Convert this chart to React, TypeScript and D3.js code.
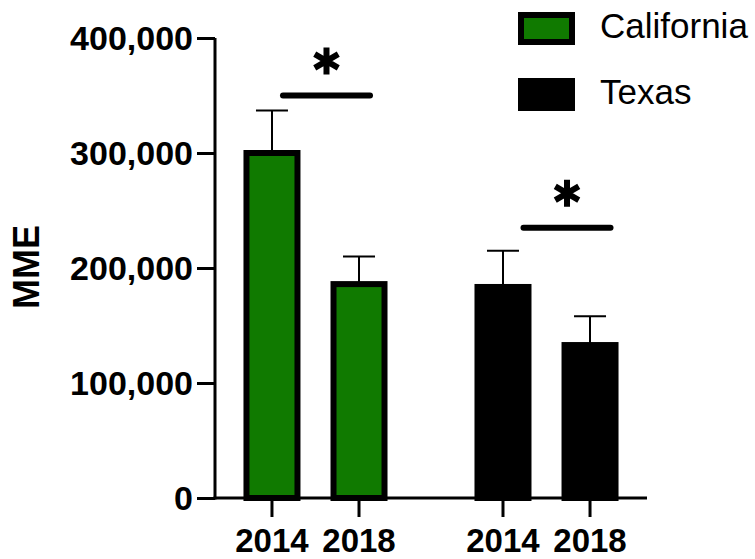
import React, { useRef, useEffect } from "react";
import * as d3 from "d3";

// values
const groups = ["California", "Texas"];
const years = ["2014", "2018"];
const means = [
  [300000, 186000],
  [183500, 133000],
];
const errors = [
  [37000, 24000],
  [31500, 25000],
];
const yTicks = [0, 100000, 200000, 300000, 400000];
const fills = ["#107a00", "#000000"];
// significance bars: value of the line, value of the star
const sigLine = [350000, 235000];
const sigStar = [380000, 265000];
const sigShift = [11, 20.5];

const W = 755;
const H = 559;
const FONT = "'Liberation Sans', Arial, sans-serif";

const App = () => {
  const ref = useRef<SVGSVGElement>(null);

  useEffect(() => {
    const svg = d3.select(ref.current);
    svg.selectAll("*").remove();

    const y = d3.scaleLinear().domain([0, 400000]).range([498, 38]);
    const x0 = d3.scaleBand().domain(groups).range([215, 647]).paddingInner(0.3).paddingOuter(0.085);
    const x1 = d3.scaleBand().domain(years).range([0, x0.bandwidth()]).paddingInner(0.414).paddingOuter(0.136);
    const cx = (g: string, yr: string) => (x0(g) as number) + (x1(yr) as number) + x1.bandwidth() / 2;

    // y axis
    const yAxis = d3.axisLeft(y)
      .tickValues(yTicks)
      .tickFormat(d3.format(",") as any)
      .tickSize(18)
      .tickSizeOuter(0)
      .tickPadding(4);
    const ga = svg.append("g").attr("transform", "translate(215,0)").call(yAxis);
    ga.select(".domain").attr("stroke-width", 3).attr("d", `M0,${y(400000)}V${y(0) + 1.5}`);
    ga.selectAll(".tick line").attr("stroke-width", 3);
    ga.selectAll(".tick text")
      .attr("font-family", FONT)
      .attr("font-weight", "bold")
      .attr("font-size", 34)
      .attr("dy", "0.34em")
      .attr("fill", "#000");

    // bars + error bars
    groups.forEach((g, gi) => {
      years.forEach((yr, yi) => {
        const c = cx(g, yr);
        const v = means[gi][yi];
        const e = errors[gi][yi];
        svg.append("line")
          .attr("x1", c).attr("x2", c)
          .attr("y1", y(v)).attr("y2", y(v + e))
          .attr("stroke", "#000").attr("stroke-width", 2);
        svg.append("line")
          .attr("x1", c - 16).attr("x2", c + 16)
          .attr("y1", y(v + e)).attr("y2", y(v + e))
          .attr("stroke", "#000").attr("stroke-width", 2);
        svg.append("rect")
          .attr("x", c - x1.bandwidth() / 2)
          .attr("y", y(v))
          .attr("width", x1.bandwidth())
          .attr("height", y(0) - y(v))
          .attr("fill", fills[gi])
          .attr("stroke", "#000")
          .attr("stroke-width", 6);
      });

      // significance
      const a = cx(g, years[0]) + sigShift[gi];
      const b = cx(g, years[1]) + sigShift[gi];
      svg.append("line")
        .attr("x1", a).attr("x2", b)
        .attr("y1", y(sigLine[gi])).attr("y2", y(sigLine[gi]))
        .attr("stroke", "#000").attr("stroke-width", 6).attr("stroke-linecap", "round");
      svg.append("path")
        .attr("d", d3.symbol(d3.symbolAsterisk, 520)() as string)
        .attr("transform", `translate(${(a + b) / 2},${y(sigStar[gi])})`)
        .attr("fill", "none")
        .attr("stroke", "#000")
        .attr("stroke-width", 6);
    });

    // x axis
    svg.append("line")
      .attr("x1", 213.5).attr("x2", 647)
      .attr("y1", y(0)).attr("y2", y(0))
      .attr("stroke", "#000").attr("stroke-width", 3);
    groups.forEach((g) => {
      years.forEach((yr) => {
        const c = cx(g, yr);
        svg.append("line")
          .attr("x1", c).attr("x2", c)
          .attr("y1", y(0)).attr("y2", y(0) + 19)
          .attr("stroke", "#000").attr("stroke-width", 3);
        svg.append("text")
          .attr("x", c).attr("y", 552)
          .attr("text-anchor", "middle")
          .attr("font-family", FONT).attr("font-weight", "bold").attr("font-size", 33)
          .text(yr);
      });
    });

    // y title
    svg.append("text")
      .attr("transform", "translate(39,267) rotate(-90)")
      .attr("text-anchor", "middle")
      .attr("font-family", FONT).attr("font-weight", "bold").attr("font-size", 36)
      .text("MME");

    // legend
    groups.forEach((g, gi) => {
      const ly = 15 + gi * 66;
      svg.append("rect")
        .attr("x", 521).attr("y", ly)
        .attr("width", 51).attr("height", 27)
        .attr("fill", fills[gi])
        .attr("stroke", "#000").attr("stroke-width", 6);
      svg.append("text")
        .attr("x", 600).attr("y", ly + 23)
        .attr("font-family", FONT).attr("font-size", 35)
        .text(g);
    });
  }, []);

  return (
    <svg ref={ref} width={W} height={H}
      style={{ position: "absolute", left: 0, top: 0, background: "#fff" }} />
  );
};

export default App;
